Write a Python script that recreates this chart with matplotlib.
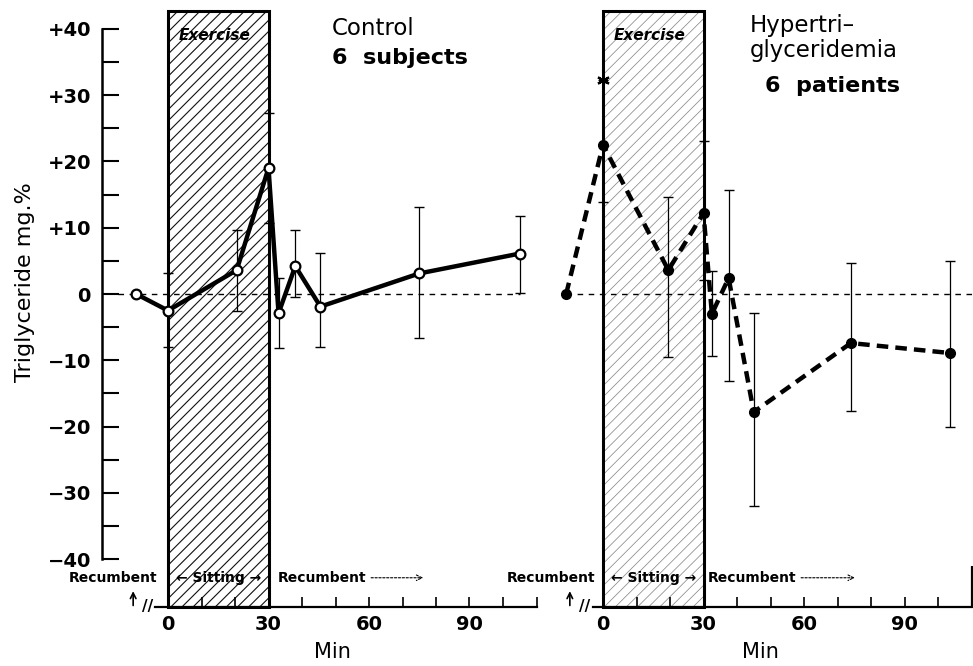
import matplotlib
matplotlib.use("Agg")
import matplotlib.pyplot as plt
from matplotlib.patches import Rectangle

# ---- data ----
# Control, 6 subjects (open circles, solid line)
ctrl_min = [-9.5, 0, 20.5, 30, 33, 38, 45.5, 75, 105]
ctrl_val = [0, -2.5, 3.6, 19.0, -2.9, 4.2, -1.9, 3.1, 6.1]
ctrl_err_lo = [0, 5.5, 6.2, 8.3, 5.2, 4.6, 6.1, 9.7, 6.0]
ctrl_err_hi = [0, 5.7, 6.1, 8.3, 5.3, 5.5, 8.1, 10.0, 5.6]

# Hypertriglyceridemia, 6 patients (filled circles, dashed line)
hyper_min = [-11, 0, 19.5, 30, 32.5, 37.5, 45, 74, 103.5]
hyper_val = [0, 22.5, 3.6, 12.2, -3.0, 2.4, -17.8, -7.4, -8.9]
hyper_err_lo = [0, 8.6, 13.1, 10.1, 6.4, 15.5, 14.2, 10.2, 11.1]
hyper_err_hi = [0, 9.8, 11.0, 10.9, 6.5, 13.3, 14.9, 12.1, 13.9]
signif_min = [0]      # asterisk above first exercise sample
signif_val = [32.3]

y_ticks = [-40, -30, -20, -10, 0, 10, 20, 30, 40]
y_labels = ['\u221240', '\u221230', '\u221220', '\u221210', '0', '+10', '+20', '+30', '+40']
x_major = [0, 30, 60, 90]
x_minor = [10, 20, 40, 50, 70, 80, 100, 110]
exercise = (0, 30)

# ---- layout (pixel based, 973 x 666) ----
W, H = 973, 666
PX_MIN = 3.35          # px per minute
PX_UNIT = 6.63         # px per mg%
Y0 = 294               # pixel row of zero
X_AX = 607             # pixel row of time axis
y_lo = -(X_AX - Y0) / PX_UNIT
y_hi = Y0 / PX_UNIT
box_top = 42.7

fig = plt.figure(figsize=(W / 100, H / 100), dpi=100)
bottom = (H - X_AX) / H
height = X_AX / H


def make_axes(left_px, right_px, zero_px):
    ax = fig.add_axes([left_px / W, bottom, (right_px - left_px) / W, height])
    ax.set_xlim((left_px - zero_px) / PX_MIN, (right_px - zero_px) / PX_MIN)
    ax.set_ylim(y_lo, y_hi)
    ax.patch.set_alpha(0)
    for s in ['top', 'right']:
        ax.spines[s].set_visible(False)
    ax.spines['bottom'].set_linewidth(1.6)
    ax.set_xticks(x_major, [str(v) for v in x_major])
    ax.set_xticks(x_minor, minor=True)
    ax.tick_params(axis='x', which='both', direction='in', length=7, width=1.2,
                   pad=6, labelsize=14)
    for lab in ax.get_xticklabels():
        lab.set_fontweight('bold')
    return ax


def draw_box(ax, hatch_col, hatch_lw):
    x0, x1 = exercise
    plt.rcParams['hatch.linewidth'] = hatch_lw
    ax.add_patch(Rectangle((x0, y_lo), x1 - x0, box_top - y_lo, facecolor='white',
                           edgecolor=hatch_col, hatch='///', linewidth=0, zorder=1,
                           clip_on=False))
    ax.add_patch(Rectangle((x0, y_lo), x1 - x0, box_top - y_lo, fill=False,
                           edgecolor='black', linewidth=2.2, zorder=4, clip_on=False))
    ax.text((x0 + x1) / 2 - 1, box_top - 3.7, 'Exercise', fontsize=11, fontweight='bold',
            fontstyle='italic', ha='center', va='center', zorder=5)


def posture_labels(ax, rec_right, rec2_left, arrow_end):
    kw = dict(fontsize=10, fontweight='bold', va='center', zorder=6)
    yy = -42.8
    ax.text(rec_right, yy, 'Recumbent', ha='right', **kw)
    ax.text(15, yy, '\u2190 Sitting \u2192', ha='center', **kw)
    ax.text(rec2_left, yy, 'Recumbent', ha='left', **kw)
    ax.annotate('', xy=(arrow_end, yy), xytext=(rec2_left + 27, yy),
                arrowprops=dict(arrowstyle='->', lw=0.8, linestyle=(0, (2, 1.5))))


def break_marks(ax, t_arrow, t_break):
    ax.annotate('', xy=(t_arrow, -44.4), xytext=(t_arrow, -47.4),
                arrowprops=dict(arrowstyle='->', lw=1.2), annotation_clip=False)
    ax.text(t_break, y_lo, '//', fontsize=11, fontweight='bold', ha='center',
            va='center', clip_on=False)


# ---------------- left panel: control ----------------
axL = make_axes(102, 545, 168)
axL.spines['left'].set_bounds(-40, 40)
axL.spines['left'].set_linewidth(1.8)
axL.spines['bottom'].set_bounds(-3.9, 110)
axL.set_yticks(y_ticks, y_labels)
axL.set_yticks(range(-35, 40, 10), minor=True)
axL.tick_params(axis='y', which='both', direction='in', length=12, width=1.5,
                pad=8, labelsize=14)
for lab in axL.get_yticklabels():
    lab.set_fontweight('bold')

draw_box(axL, '#111111', 0.8)
axL.hlines(0, -14.9, ctrl_min[-1], colors='black', linestyles=(0, (4, 4)), lw=1, zorder=2)
axL.errorbar(ctrl_min[1:], ctrl_val[1:], yerr=[ctrl_err_lo[1:], ctrl_err_hi[1:]],
             fmt='none', ecolor='black', elinewidth=0.9, capsize=3.6, capthick=1,
             zorder=3)
axL.plot(ctrl_min, ctrl_val, color='black', lw=3.2, marker='o', ms=7,
         mfc='white', mec='black', mew=1.6, zorder=5, clip_on=False)
axL.text(49, 39.1, 'Control', fontsize=16.5, ha='left', va='baseline')
axL.text(49, 34.7, '6  subjects', fontsize=16, fontweight='bold', ha='left', va='baseline')
posture_labels(axL, -3.3, 32.8, 77)
break_marks(axL, -10.4, -6.2)
axL.text((332 - 102) / 443, (X_AX - 652) / X_AX, 'Min', transform=axL.transAxes,
         fontsize=15, ha='center', va='center')

# ---------------- right panel: hypertriglyceridemia ----------------
axR = make_axes(550, 973, 603)
axR.spines['left'].set_visible(False)
axR.spines['bottom'].set_bounds(-3, 110)
axR.set_yticks([])
axR.vlines(110, y_lo, -41, colors='black', lw=1.6, clip_on=False)

draw_box(axR, '#8a8a8a', 0.55)
axR.hlines(0, hyper_min[0], 112, colors='black', linestyles=(0, (4, 4)), lw=1, zorder=2)
axR.errorbar(hyper_min[1:], hyper_val[1:], yerr=[hyper_err_lo[1:], hyper_err_hi[1:]],
             fmt='none', ecolor='black', elinewidth=0.9, capsize=3.6, capthick=1,
             zorder=3)
axR.plot(hyper_min, hyper_val, color='black', lw=3.2, dashes=(2.6, 1.6), marker='o',
         ms=7, mfc='black', mec='black', zorder=5, clip_on=False)
axR.plot(signif_min, signif_val, ls='none', marker=(6, 2, 0), ms=9, mew=1.6,
         color='black', zorder=6)
axR.text(43.9, 39.5, 'Hypertri\u2013', fontsize=16.5, ha='left', va='baseline')
axR.text(43.9, 35.8, 'glyceridemia', fontsize=16.5, ha='left', va='baseline')
axR.text(48.4, 30.5, '6  patients', fontsize=16, fontweight='bold', ha='left', va='baseline')
posture_labels(axR, -2.4, 31.3, 76)
break_marks(axR, -9.9, -5.4)
axR.text((760 - 550) / 423, (X_AX - 652) / X_AX, 'Min', transform=axR.transAxes,
         fontsize=15, ha='center', va='center')

fig.text(25 / W, 1 - 282 / H, 'Triglyceride mg.%', rotation=90, fontsize=16,
         ha='center', va='center')

fig.savefig('out.png', dpi=100)
